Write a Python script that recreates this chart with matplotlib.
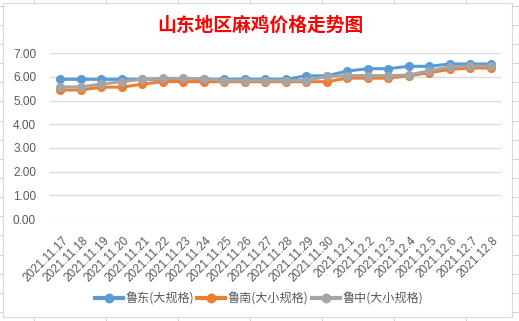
import matplotlib
matplotlib.use("Agg")
import matplotlib.pyplot as plt
import matplotlib.transforms as mtransforms
from matplotlib.lines import Line2D
from matplotlib.patches import Rectangle

plt.rcParams['font.family'] = ['Noto Sans CJK SC', 'DejaVu Sans']

# data
dates = ["2021.11.17", "2021.11.18", "2021.11.19", "2021.11.20", "2021.11.21",
         "2021.11.22", "2021.11.23", "2021.11.24", "2021.11.25", "2021.11.26",
         "2021.11.27", "2021.11.28", "2021.11.29", "2021.11.30", "2021.12.1",
         "2021.12.2", "2021.12.3", "2021.12.4", "2021.12.5", "2021.12.6",
         "2021.12.7", "2021.12.8"]
ludong = [5.9, 5.9, 5.9, 5.9, 5.9, 5.9, 5.9, 5.9, 5.9, 5.9, 5.9,
          5.9, 6.05, 6.05, 6.25, 6.35, 6.35, 6.45, 6.45, 6.55, 6.55, 6.55]
lunan = [5.45, 5.45, 5.57, 5.57, 5.7, 5.8, 5.8, 5.8, 5.8, 5.8, 5.8,
         5.8, 5.8, 5.8, 5.95, 5.95, 5.95, 6.05, 6.18, 6.32, 6.38, 6.38]
luzhong = [5.58, 5.58, 5.7, 5.8, 5.9, 5.94, 5.94, 5.92, 5.85, 5.85, 5.85,
           5.85, 5.85, 6.02, 6.06, 6.06, 6.06, 6.08, 6.27, 6.42, 6.46, 6.46]
names = ["鲁东(大规格)", "鲁南(大小规格)", "鲁中(大小规格)"]
colors = ["#5B9BD5", "#ED7D31", "#A5A5A5"]

W, H = 519, 321
fig = plt.figure(figsize=(W / 100, H / 100), dpi=100)


def fx(x):
    return x / W


def fy(y):
    return 1 - y / H


# spreadsheet cells behind the chart
for x in [34, 106, 178, 250, 322, 394, 466]:
    fig.add_artist(Line2D([fx(x), fx(x)], [0, 1], color="#d4d4d4", lw=0.8, zorder=-3))
for k in range(17):
    y = 5.7 + 19.14 * k
    fig.add_artist(Line2D([0, 1], [fy(y), fy(y)], color="#d4d4d4", lw=0.8, zorder=-3))

# chart area
fig.add_artist(Rectangle((fx(3), fy(317)), fx(509), 314 / H, facecolor="white",
                         edgecolor="#d9d9d9", lw=0.8, zorder=-2))

fig.text(fx(260), fy(25), "山东地区麻鸡价格走势图", color="#FF0000", fontsize=13.5,
         fontweight="bold", ha="center", va="center")

ax = fig.add_axes([fx(50), fy(219), fx(451), (219 - 53.3) / H])
ax.set_facecolor("none")
xs = list(range(len(dates)))
for vals, name, c in zip([ludong, lunan, luzhong], names, colors):
    ax.plot(xs, vals, color=c, lw=2.2, marker="o", markersize=5.5, label=name)

ax.set_xlim(-0.5, len(dates) - 0.5)
ax.set_ylim(0, 7)
ax.set_yticks(range(8))
ax.set_yticklabels(["%.2f" % v for v in range(8)])
ax.grid(axis="y", color="#d9d9d9", lw=0.9)
ax.set_axisbelow(True)
for s in ax.spines.values():
    s.set_visible(False)
ax.tick_params(axis="both", length=0, colors="#595959", labelsize=8.5)
ax.tick_params(axis="y", pad=10)
ax.tick_params(axis="x", pad=14)
ax.set_xticks(xs)
ax.set_xticklabels(dates, rotation=45, ha="right", va="center",
                   rotation_mode="anchor")
shift = mtransforms.ScaledTranslation(6 / 100, 0, fig.dpi_scale_trans)
for lab in ax.get_xticklabels() + ax.get_yticklabels():
    lab.set_fontfamily(["Liberation Sans", "DejaVu Sans"])
for lab in ax.get_xticklabels():
    lab.set_transform(lab.get_transform() + shift)

handles, labels = ax.get_legend_handles_labels()
leg = fig.legend(handles, labels, loc="center", bbox_to_anchor=(fx(259), fy(299)),
                 ncol=3, frameon=False, fontsize=8.7, handlelength=2.3,
                 handletextpad=0.2, columnspacing=0.3, borderpad=0,
                 markerscale=1.1)
for t in leg.get_texts():
    t.set_color("#595959")
for h in leg.legend_handles:
    h.set_linewidth(3)

fig.savefig("out.png", dpi=100)
